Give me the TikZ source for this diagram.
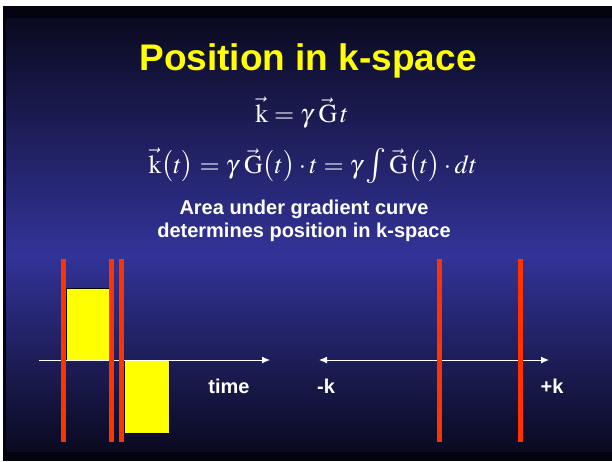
\documentclass[tikz,border=0pt]{standalone}
\usepackage{mathptmx}
\usepackage{fontspec}
\setmainfont{Liberation Serif}
\setsansfont{Liberation Sans}
\usetikzlibrary{arrows.meta}
\definecolor{hgdunkel}{RGB}{10,10,32}
\definecolor{hgmitte}{RGB}{40,40,120}
\definecolor{hgblau}{RGB}{51,51,153}
\definecolor{hgunten}{RGB}{30,30,88}
\definecolor{rahmen}{RGB}{4,4,16}
\definecolor{kred}{RGB}{255,51,0}
\definecolor{kgelb}{RGB}{255,255,0}
\newcommand{\grint}{\mathop{\vcenter{\hbox{\scalebox{1.35}{$\int$}}}}}

\begin{document}
\begin{tikzpicture}[x=1pt, y=-1pt,
			>={Latex[length=8pt,width=7pt]},   %Pfeilspitzen
			balken/.style={fill=kred, draw=none},
			flaeche/.style={fill=kgelb, draw=black, line width=0.6pt},
			achse/.style={draw=white, line width=1pt},
			beschr/.style={text=white, anchor=base, inner sep=0pt, font=\sffamily\bfseries\fontsize{20}{23}\selectfont},
			formel/.style={text=white, anchor=base, inner sep=0pt, font=\fontsize{26}{30}\selectfont}]
			%Hintergrund
			\useasboundingbox[fill=white] (0,0) rectangle (612,461);
			\fill[rahmen] (3,6) rectangle (612,461);
			\shade[top color=hgdunkel, middle color=hgmitte, bottom color=hgblau] (6,18) rectangle (612,255);
			\shade[top color=hgblau, middle color=hgunten, bottom color=hgdunkel] (6,255) rectangle (612,451);
			%Titel und Formeln
			\node[anchor=base, inner sep=0pt, text=kgelb, font=\sffamily\bfseries\fontsize{37}{44}\selectfont] (titel) at (308,70) {Position in k-space};
			\node[formel] (gl1) at (302,122) {$\vec{\mathrm{k}} = \gamma\;\vec{\mathrm{G}}\,t$};
			\node[formel] (gl2) at (313,173) {$\vec{\mathrm{k}}\bigl(t\bigr) = \gamma\;\vec{\mathrm{G}}\bigl(t\bigr)\cdot t = \gamma\grint\vec{\mathrm{G}}\bigl(t\bigr)\cdot dt$};
			\node[beschr] (txt1) at (304,214) {Area under gradient curve};
			\node[beschr] (txt2) at (304,237) {determines position in k-space};
			%Gradientenflaechen
			\draw[flaeche] (66,288) rectangle (109,360);
			\draw[flaeche] (124,360) rectangle (169,433);
			%Achsen zeichnen
			\coordinate (t0) at (39,360);
			\coordinate (t1) at (270,360);
			\coordinate (kmin) at (319,360);
			\coordinate (kmax) at (549,360);
			\draw[achse, ->] (t0) -- (t1);
			\draw[achse, <->] (kmin) -- (kmax);
			%Achsen beschriften
			\node[beschr] (zeit) at (229,393) {time};
			\node[beschr] (kneg) at (326,393) {-k};
			\node[beschr] (kpos) at (552,393) {+k};
			%rote Balken
			\foreach \x in {61,109,119,437,518} \fill[balken] (\x,259) rectangle ++(5,183);
		\end{tikzpicture}
\end{document}
